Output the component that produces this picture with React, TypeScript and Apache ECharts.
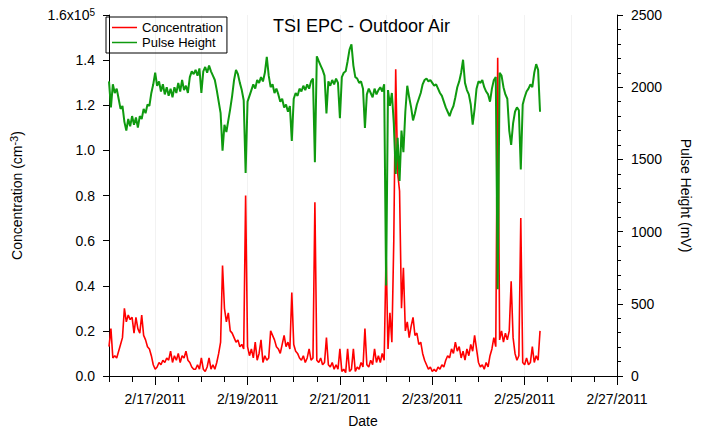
import React, { useEffect, useRef } from "react";
import * as echarts from "echarts";

const FONT = "'Liberation Sans', Arial, Helvetica, sans-serif";

// hourly samples starting 2/16/2011 00:00
const STEP_HOURS = 1;

// Concentration, in units of 1e5 cm^-3
const concentration = [
  0.13, 0.21, 0.08, 0.09, 0.08, 0.11, 0.14, 0.17, 0.3, 0.24,
  0.27, 0.25, 0.26, 0.19, 0.26, 0.21, 0.19, 0.27, 0.18, 0.16,
  0.13, 0.12, 0.09, 0.05, 0.03, 0.04, 0.06, 0.05, 0.07, 0.06,
  0.08, 0.07, 0.11, 0.06, 0.09, 0.07, 0.1, 0.06, 0.09, 0.08,
  0.11, 0.07, 0.06, 0.04, 0.03, 0.03, 0.05, 0.03, 0.08, 0.03,
  0.02, 0.04, 0.08, 0.03, 0.05, 0.03, 0.06, 0.1, 0.15, 0.49,
  0.3, 0.24, 0.28, 0.2, 0.19, 0.17, 0.15, 0.16, 0.13, 0.14,
  0.12, 0.8, 0.13, 0.09, 0.12, 0.08, 0.15, 0.07, 0.1, 0.16,
  0.06, 0.09, 0.07, 0.08, 0.2, 0.18, 0.16, 0.13, 0.12, 0.1,
  0.14, 0.18, 0.13, 0.15, 0.12, 0.37, 0.14, 0.11, 0.1, 0.08,
  0.07, 0.09, 0.06, 0.08, 0.12, 0.07, 0.08, 0.77, 0.07, 0.06,
  0.08, 0.05, 0.06, 0.17, 0.05, 0.04, 0.06, 0.03, 0.05, 0.03,
  0.12, 0.02, 0.03, 0.015, 0.12, 0.02, 0.03, 0.12, 0.02, 0.04,
  0.03, 0.06, 0.04, 0.21, 0.05, 0.04, 0.07, 0.05, 0.12, 0.06,
  0.09, 0.06, 0.1, 0.07, 0.55, 0.12, 0.28, 0.15, 0.6, 1.36,
  0.9, 0.82, 0.3, 0.48, 0.2, 0.24, 0.17, 0.22, 0.26, 0.18,
  0.19, 0.14, 0.15, 0.1, 0.07, 0.05, 0.03, 0.04, 0.02, 0.03,
  0.02, 0.04, 0.03, 0.05, 0.04, 0.07, 0.09, 0.08, 0.12, 0.1,
  0.15, 0.11, 0.13, 0.08, 0.11, 0.07, 0.12, 0.09, 0.14, 0.11,
  0.18, 0.12, 0.06, 0.04, 0.05, 0.03, 0.06, 0.04, 0.09, 0.12,
  0.17, 0.13, 1.41, 0.16, 0.2, 0.15, 0.19, 0.16, 0.2, 0.42,
  0.17, 0.1, 0.07, 0.09, 0.7, 0.06, 0.05, 0.08, 0.05, 0.06,
  0.13, 0.06, 0.09, 0.07, 0.2,
];

// Pulse height, mV
const pulseHeight = [
  2040, 1860, 2020, 1960, 1990, 1920, 1850, 1870, 1760, 1700,
  1780, 1730, 1800, 1740, 1790, 1720, 1800, 1780, 1850, 1820,
  1880, 1870, 1960, 2020, 2100, 2010, 2040, 1970, 2020, 1950,
  2000, 1940, 1990, 1930, 2000, 1960, 2030, 1970, 2050, 1980,
  2010, 1960, 2070, 2110, 2090, 2120, 2080, 2130, 1960, 2110,
  2140, 2100, 2150, 2110, 2080, 2050, 1980, 1900, 1820, 1560,
  1740, 1690, 1770, 1850, 1940, 2050, 2120, 2090, 2030, 1980,
  1910, 1406, 1900, 1940, 1980, 2020, 1990, 2050, 2030, 2070,
  2040, 2100, 2210, 2080, 2000, 2020, 1960, 1990, 1950, 1900,
  1920, 1860, 1880, 1830, 1870, 1628, 1920, 1960, 1940, 1990,
  1970, 2010, 1980, 2020, 1990, 2040, 2060, 1480, 2214, 2180,
  2150, 2120, 2080, 1819, 2040, 2010, 2050, 2020, 2060, 2030,
  1785, 2070, 2100, 2110, 2180, 2260, 2296, 2150, 2070, 2060,
  2030, 2040, 1990, 1717, 1950, 1990, 1960, 1930, 1990, 1950,
  1980, 2000, 1970, 2020, 627, 1980, 1870, 1960, 1750, 1400,
  1650, 1350, 1700, 1550, 1830, 2010, 1930, 1860, 1770, 1820,
  1880, 1920, 1960, 2020, 2050, 2060, 2040, 2050, 2030, 2010,
  2020, 1990, 1960, 1940, 1900, 1860, 1830, 1800, 1840, 1870,
  1930, 2000, 2040, 2100, 2190, 2030, 1980, 1950, 1880, 1740,
  1850, 1990, 2040, 2030, 2050, 2000, 1970, 1950, 1900, 1990,
  2050, 2070, 600, 2100, 2080, 2000, 1950, 1920, 1700, 1600,
  1750, 1830, 1860, 1840, 1430, 1880, 1930, 1970, 1990, 2020,
  2000, 2100, 2160, 2120, 1830,
];

// one label per day, 2/16/2011 .. 2/27/2011 (labelled every other day)
const dayLabels = [
  "2/16/2011", "2/17/2011", "2/18/2011", "2/19/2011", "2/20/2011", "2/21/2011",
  "2/22/2011", "2/23/2011", "2/24/2011", "2/25/2011", "2/26/2011", "2/27/2011",
];

const seriesNames = ["Concentration", "Pulse Height"];
const RED = "#ff0000";
const GREEN = "#0f9a0f";

export default function App() {
  const ref = useRef<HTMLDivElement>(null);

  useEffect(() => {
    document.body.style.margin = "0";
    if (!ref.current) return;
    const chart = echarts.init(ref.current, undefined, { renderer: "svg" });
    const black = { color: "#000", width: 1 };
    const totalHours = (dayLabels.length - 1) * 24;
    chart.setOption({
      animation: false,
      textStyle: { fontFamily: FONT },
      title: {
        text: "TSI EPC - Outdoor Air",
        left: 268,
        top: 12,
        textStyle: { fontSize: 18, fontWeight: "normal", color: "#000", fontFamily: FONT },
      },
      legend: {
        data: seriesNames,
        left: 106,
        top: 17,
        orient: "vertical",
        icon: "rect",
        itemWidth: 25,
        itemHeight: 1.5,
        itemGap: 2,
        padding: [4, 4, 4, 6],
        borderColor: "#000",
        borderWidth: 1,
        textStyle: { fontSize: 13, color: "#000", fontFamily: FONT },
      },
      grid: { left: 103, top: 15, width: 523, height: 367 },
      xAxis: [
        {
          type: "value",
          min: 0,
          max: totalHours,
          interval: 12,
          position: "bottom",
          axisLine: { show: true, lineStyle: black },
          axisTick: { show: true, length: 6, lineStyle: black },
          axisLabel: { show: false },
          splitLine: { show: false },
        },
        {
          type: "category",
          data: dayLabels,
          boundaryGap: false,
          position: "bottom",
          axisLine: { show: false },
          axisTick: { show: true, length: 9, interval: (i: number) => i % 2 === 1, lineStyle: black },
          axisLabel: {
            interval: (i: number) => i % 2 === 1,
            margin: 16,
            fontSize: 14,
            color: "#000",
            fontFamily: FONT,
          },
          splitLine: { show: true, interval: 0, lineStyle: { color: "#f2f2f2", width: 1 } },
          name: "Date",
          nameLocation: "middle",
          nameGap: 38,
          nameTextStyle: { fontSize: 14, color: "#000", fontFamily: FONT },
        },
      ],
      yAxis: [
        {
          type: "value",
          position: "left",
          min: 0,
          max: 1.6,
          interval: 0.2,
          axisLine: { show: true, lineStyle: black },
          axisTick: { show: true, length: 6, lineStyle: black },
          splitLine: { show: false },
          axisLabel: {
            margin: 14,
            fontSize: 14,
            color: "#000",
            fontFamily: FONT,
            formatter: (v: number) =>
              Math.abs(v - 1.6) < 1e-6 ? "{n|1.6x10}{s|5}" : v.toFixed(1),
            rich: {
              n: { fontSize: 14, color: "#000", fontFamily: FONT, lineHeight: 16 },
              s: { fontSize: 10, color: "#000", fontFamily: FONT, verticalAlign: "top", lineHeight: 10 },
            },
          },
          name: "{a|Concentration (cm}{s|-3}{a|)}",
          nameLocation: "middle",
          nameGap: 83,
          nameRotate: 90,
          nameTextStyle: {
            rich: {
              a: { fontSize: 14, color: "#000", fontFamily: FONT, lineHeight: 18 },
              s: { fontSize: 11, color: "#000", fontFamily: FONT, verticalAlign: "top", lineHeight: 10 },
            },
          },
        },
        {
          type: "value",
          position: "right",
          min: 0,
          max: 2500,
          interval: 500,
          axisLine: { show: true, lineStyle: black },
          axisTick: { show: true, length: 6, lineStyle: black },
          minorTick: { show: true, splitNumber: 5, length: 4, lineStyle: black },
          splitLine: { show: false },
          axisLabel: {
            margin: 14,
            fontSize: 14,
            color: "#000",
            fontFamily: FONT,
            formatter: (v: number) => String(v),
          },
          name: "Pulse Height (mV)",
          nameLocation: "middle",
          nameGap: 62,
          nameRotate: -90,
          nameTextStyle: { fontSize: 14, color: "#000", fontFamily: FONT },
        },
      ],
      series: [
        {
          name: seriesNames[0],
          type: "line",
          xAxisIndex: 0,
          yAxisIndex: 0,
          data: concentration.map((v, i) => [i * STEP_HOURS, v]),
          symbol: "none",
          showSymbol: false,
          color: RED,
          lineStyle: { color: RED, width: 1.6 },
        },
        {
          name: seriesNames[1],
          type: "line",
          xAxisIndex: 0,
          yAxisIndex: 1,
          data: pulseHeight.map((v, i) => [i * STEP_HOURS, v]),
          symbol: "none",
          showSymbol: false,
          color: GREEN,
          lineStyle: { color: GREEN, width: 2 },
        },
      ],
    });
    return () => chart.dispose();
  }, []);

  return <div ref={ref} style={{ width: 701, height: 433 }} />;
}
